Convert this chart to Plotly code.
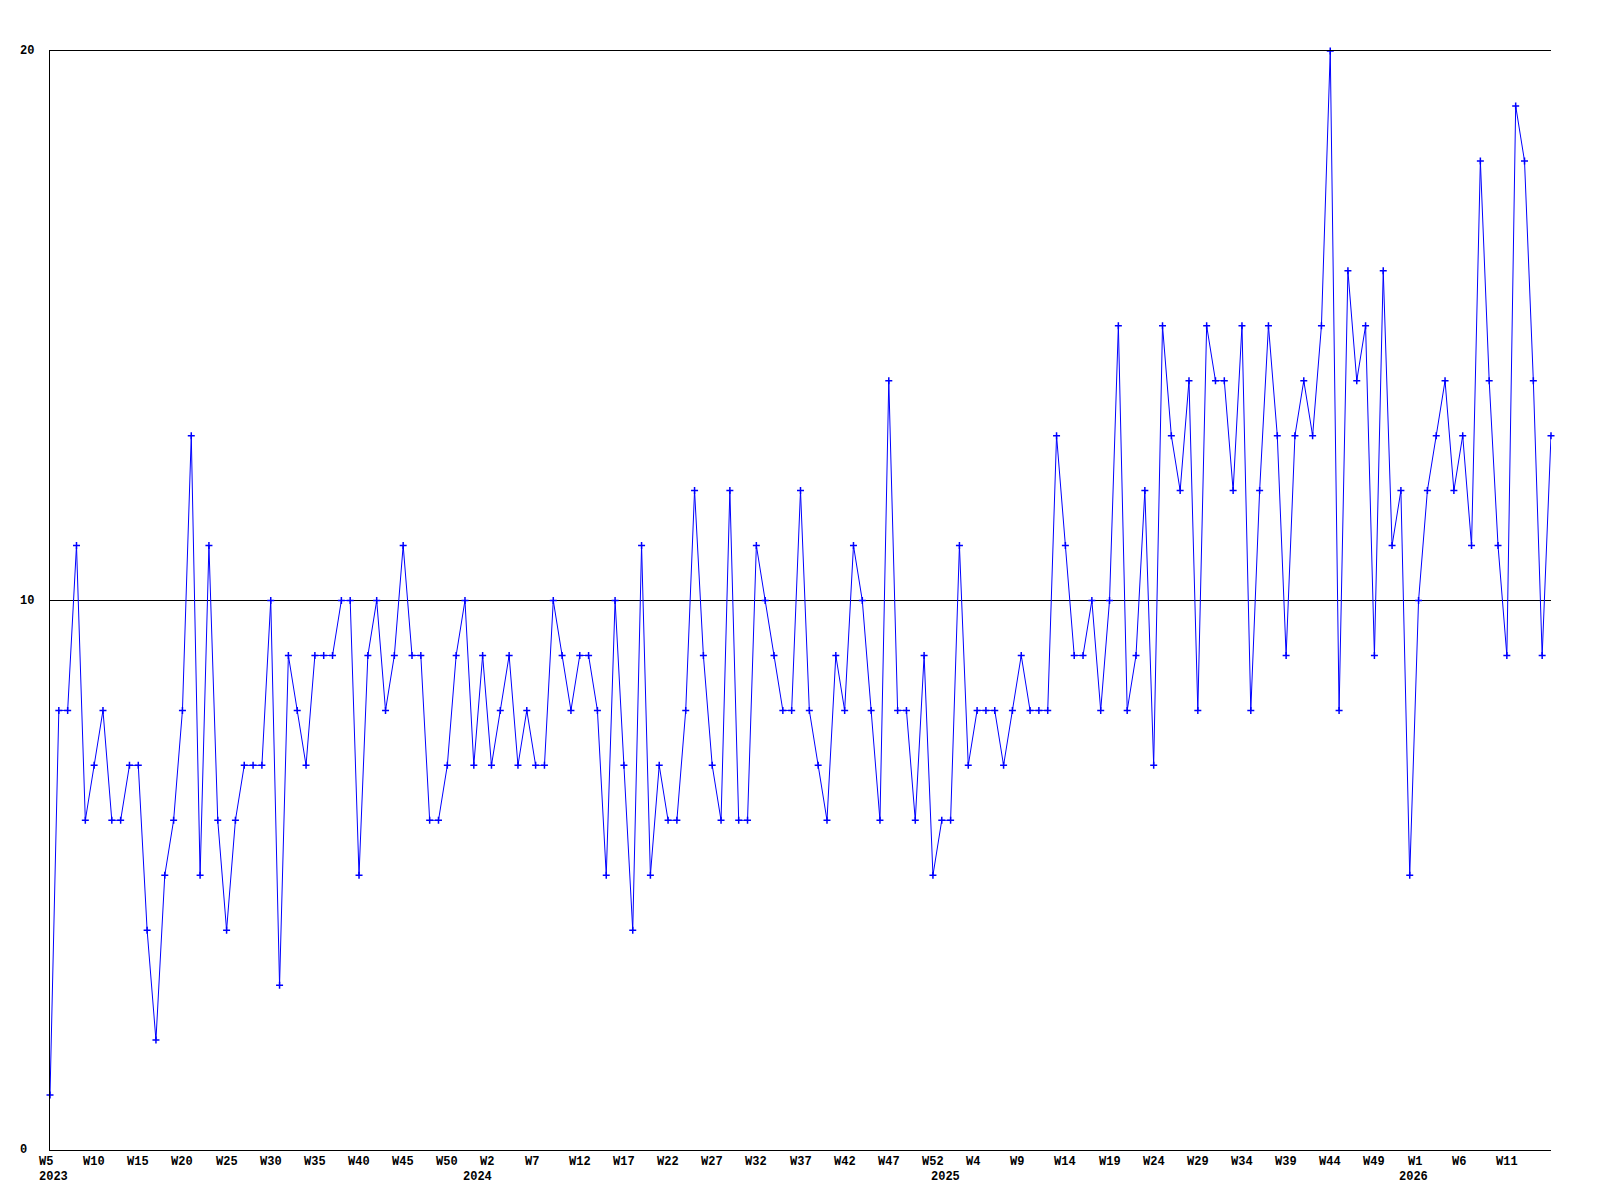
import plotly.graph_objects as go

# Weekly counts, 2023 W5 .. 2026 W16 (weeks numbered from W0 after each new year)
YEARS = [2023, 2024, 2025, 2026]
FIRST_WEEK = [5, 0, 0, 0]
LAST_WEEK = [52, 52, 52, 16]

COUNTS = [
    1, 8, 8, 11, 6, 7, 8, 6, 6, 7,
    7, 4, 2, 5, 6, 8, 13, 5, 11, 6,
    4, 6, 7, 7, 7, 10, 3, 9, 8, 7,
    9, 9, 9, 10, 10, 5, 9, 10, 8, 9,
    11, 9, 9, 6, 6, 7, 9, 10, 7, 9,
    7, 8, 9, 7, 8, 7, 7, 10, 9, 8,
    9, 9, 8, 5, 10, 7, 4, 11, 5, 7,
    6, 6, 8, 12, 9, 7, 6, 12, 6, 6,
    11, 10, 9, 8, 8, 12, 8, 7, 6, 9,
    8, 11, 10, 8, 6, 14, 8, 8, 6, 9,
    5, 6, 6, 11, 7, 8, 8, 8, 7, 8,
    9, 8, 8, 8, 13, 11, 9, 9, 10, 8,
    10, 15, 8, 9, 12, 7, 15, 13, 12, 14,
    8, 15, 14, 14, 12, 15, 8, 12, 15, 13,
    9, 13, 14, 13, 15, 20, 8, 16, 14, 15,
    9, 16, 11, 12, 5, 10, 12, 13, 14, 12,
    13, 11, 18, 14, 11, 9, 19, 18, 14, 9,
    13,
]

Y_TICKS = [0, 10, 20]

LINE = "#0000FF"
FONT = dict(family="Liberation Mono, Courier New, monospace", size=12, color="black", weight=700)

weeks, week_nums, year_start = [], [], []
for yr, w0, w1 in zip(YEARS, FIRST_WEEK, LAST_WEEK):
    year_start.append(len(weeks))
    for w in range(w0, w1 + 1):
        weeks.append(f"{yr}-W{w:02d}")
        week_nums.append(w)

fig = go.Figure()
fig.add_trace(
    go.Scatter(
        x=weeks,
        y=COUNTS,
        mode="lines+markers",
        line=dict(color=LINE, width=1),
        marker=dict(symbol="cross-thin", size=5, line=dict(color=LINE, width=1.5), color=LINE),
        cliponaxis=False,
        hoverinfo="x+y",
    )
)

notes = []
# week labels every 5th point, left aligned just before the point (none on the last one)
for i in range(0, len(weeks) - 1, 5):
    notes.append(dict(x=weeks[i], xref="x", y=0, yref="paper", yanchor="top",
                      xanchor="left", xshift=-13, yshift=-3, text=f"W{week_nums[i]}",
                      showarrow=False, font=FONT))
for yr, i in zip(YEARS, year_start):
    notes.append(dict(x=weeks[i], xref="x", y=0, yref="paper", yanchor="top",
                      xanchor="left", xshift=-13, yshift=-18, text=str(yr),
                      showarrow=False, font=FONT))
for v in Y_TICKS:
    notes.append(dict(x=0, xref="paper", y=v, yref="y", xanchor="left", yanchor="middle",
                      xshift=-32, text=str(v), showarrow=False, font=FONT))

# page body has an 8px margin, so the figure is shrunk by that much
fig.update_layout(
    width=1592,
    height=1192,
    margin=dict(l=42, r=49, t=43, b=50),
    paper_bgcolor="white",
    plot_bgcolor="white",
    showlegend=False,
    annotations=notes,
    xaxis=dict(
        type="category",
        range=[0, len(weeks) - 1],
        showgrid=False,
        zeroline=False,
        showline=True,
        mirror=True,
        linecolor="black",
        linewidth=1,
        ticks="",
        showticklabels=False,
    ),
    yaxis=dict(
        range=[0, 20],
        tickvals=Y_TICKS[1:],
        showgrid=True,
        gridcolor="black",
        gridwidth=1,
        zeroline=False,
        showline=True,
        linecolor="black",
        linewidth=1,
        ticks="",
        showticklabels=False,
    ),
)

fig.write_html("out.html")
